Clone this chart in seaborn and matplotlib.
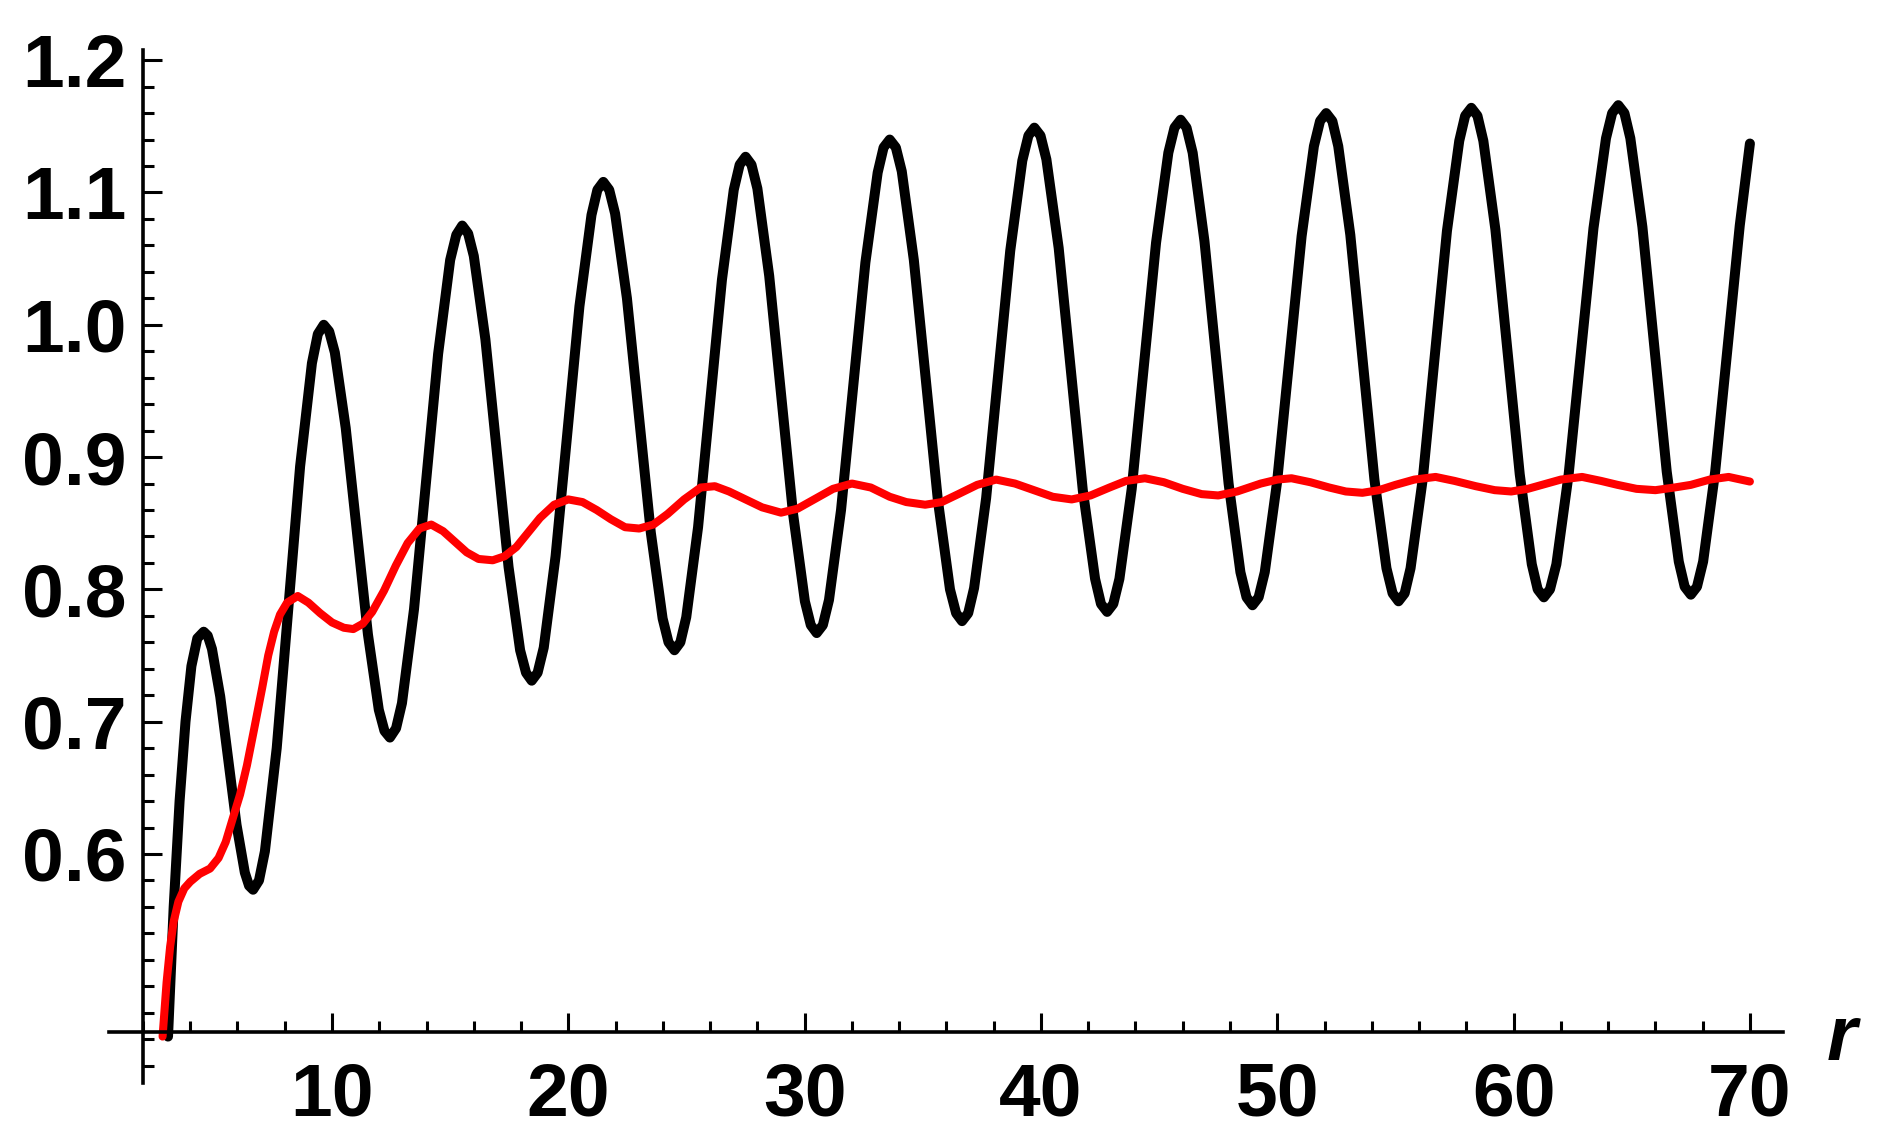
import numpy as np
import pandas as pd
import matplotlib.pyplot as plt
import seaborn as sns
from matplotlib.ticker import MultipleLocator, FormatStrFormatter

# black curve
black_r = [3.06, 3.30, 3.55, 3.80, 4.05, 4.30, 4.57,
           4.74, 4.92, 5.27, 5.96, 6.31, 6.49, 6.66,
           6.91, 7.16, 7.66, 8.65, 9.15, 9.40, 9.65,
           9.88, 10.12, 10.58, 11.52, 11.98, 12.22, 12.45,
           12.71, 12.96, 13.47, 14.49, 15.00, 15.26, 15.51,
           15.76, 16.00, 16.49, 17.47, 17.96, 18.21, 18.45,
           18.70, 18.96, 19.46, 20.47, 20.98, 21.23, 21.48,
           21.73, 21.98, 22.48, 23.49, 23.99, 24.24, 24.49,
           24.74, 24.99, 25.49, 26.50, 27.00, 27.25, 27.50,
           27.75, 28.00, 28.50, 29.51, 30.01, 30.26, 30.51,
           30.77, 31.03, 31.54, 32.57, 33.09, 33.34, 33.60,
           33.86, 34.11, 34.62, 35.64, 36.15, 36.41, 36.66,
           36.92, 37.17, 37.68, 38.70, 39.21, 39.47, 39.72,
           39.98, 40.23, 40.75, 41.77, 42.29, 42.54, 42.80,
           43.06, 43.32, 43.84, 44.87, 45.39, 45.65, 45.91,
           46.16, 46.42, 46.92, 47.94, 48.44, 48.70, 48.95,
           49.21, 49.47, 49.99, 51.03, 51.55, 51.81, 52.07,
           52.33, 52.58, 53.09, 54.11, 54.62, 54.88, 55.13,
           55.39, 55.64, 56.16, 57.18, 57.70, 57.95, 58.21,
           58.47, 58.72, 59.23, 60.26, 60.77, 61.02, 61.28,
           61.54, 61.81, 62.33, 63.38, 63.91, 64.17, 64.43,
           64.69, 64.94, 65.45, 66.48, 66.99, 67.24, 67.50,
           67.76, 68.02, 68.53, 69.57, 70.00]
black_v = [0.462, 0.560, 0.640, 0.700, 0.742, 0.763, 0.768,
           0.765, 0.755, 0.719, 0.622, 0.586, 0.576, 0.573,
           0.580, 0.602, 0.680, 0.893, 0.971, 0.993, 1.000,
           0.995, 0.979, 0.922, 0.766, 0.709, 0.693, 0.688,
           0.695, 0.714, 0.785, 0.978, 1.049, 1.068, 1.075,
           1.069, 1.052, 0.989, 0.817, 0.754, 0.737, 0.731,
           0.737, 0.756, 0.825, 1.014, 1.083, 1.102, 1.108,
           1.102, 1.084, 1.020, 0.843, 0.778, 0.760, 0.754,
           0.760, 0.779, 0.847, 1.034, 1.102, 1.121, 1.127,
           1.121, 1.103, 1.037, 0.857, 0.791, 0.773, 0.767,
           0.773, 0.792, 0.860, 1.047, 1.115, 1.134, 1.140,
           1.134, 1.116, 1.049, 0.867, 0.800, 0.782, 0.776,
           0.782, 0.801, 0.869, 1.056, 1.124, 1.143, 1.149,
           1.143, 1.125, 1.058, 0.875, 0.808, 0.789, 0.783,
           0.789, 0.808, 0.876, 1.062, 1.130, 1.149, 1.155,
           1.149, 1.130, 1.063, 0.880, 0.813, 0.794, 0.788,
           0.794, 0.813, 0.881, 1.067, 1.135, 1.154, 1.160,
           1.154, 1.135, 1.068, 0.883, 0.816, 0.797, 0.791,
           0.797, 0.816, 0.884, 1.071, 1.139, 1.158, 1.164,
           1.158, 1.139, 1.072, 0.887, 0.819, 0.800, 0.794,
           0.800, 0.819, 0.887, 1.073, 1.141, 1.160, 1.166,
           1.160, 1.141, 1.074, 0.889, 0.821, 0.802, 0.796,
           0.802, 0.821, 0.889, 1.075, 1.137]

# red curve
red_r = [2.83, 3.00, 3.15, 3.30, 3.50, 3.75, 4.00, 4.40, 4.84, 5.20,
         5.50, 5.82, 6.11, 6.40, 6.70, 7.05, 7.30, 7.55, 7.80, 8.10,
         8.55, 9.00, 9.50, 10.0, 10.5, 10.9, 11.3, 11.7, 12.2, 12.7,
         13.2, 13.7, 14.2, 14.7, 15.2, 15.7, 16.2, 16.8, 17.3, 17.8,
         18.3, 18.8, 19.4, 20.0, 20.6, 21.2, 21.8, 22.4, 23.0, 23.6,
         24.2, 24.9, 25.6, 26.2, 26.8, 27.5, 28.2, 29.0, 29.7, 30.4,
         31.2, 32.0, 32.8, 33.6, 34.3, 35.1, 35.8, 36.5, 37.3, 38.1,
         38.9, 39.7, 40.5, 41.3, 42.1, 42.9, 43.6, 44.4, 45.2, 46.0,
         46.8, 47.5, 48.3, 49.3, 50.0, 50.6, 51.4, 52.2, 52.9, 53.6,
         54.3, 55.0, 55.8, 56.7, 57.5, 58.4, 59.2, 59.9, 60.6, 61.2,
         62.0, 62.9, 63.7, 64.4, 65.2, 66.0, 66.8, 67.5, 68.3, 69.1,
         70.0]
red_v = [0.462, 0.503, 0.530, 0.549, 0.564, 0.574, 0.579, 0.585, 0.589, 0.597,
         0.609, 0.628, 0.645, 0.667, 0.694, 0.726, 0.750, 0.768, 0.781, 0.790,
         0.795, 0.790, 0.782, 0.775, 0.771, 0.770, 0.774, 0.783, 0.799, 0.818,
         0.835, 0.846, 0.849, 0.844, 0.836, 0.828, 0.823, 0.822, 0.825, 0.832,
         0.843, 0.854, 0.864, 0.868, 0.866, 0.860, 0.853, 0.847, 0.846, 0.849,
         0.857, 0.868, 0.877, 0.878, 0.874, 0.868, 0.862, 0.858, 0.861, 0.868,
         0.876, 0.880, 0.877, 0.870, 0.866, 0.864, 0.866, 0.872, 0.879, 0.883,
         0.880, 0.875, 0.870, 0.868, 0.871, 0.877, 0.882, 0.884, 0.881, 0.876,
         0.872, 0.871, 0.874, 0.880, 0.883, 0.884, 0.881, 0.877, 0.874, 0.873,
         0.875, 0.879, 0.883, 0.885, 0.882, 0.878, 0.875, 0.874, 0.876, 0.879,
         0.883, 0.885, 0.882, 0.879, 0.876, 0.875, 0.877, 0.879, 0.883, 0.885,
         0.8815]

x_major = [10, 20, 30, 40, 50, 60, 70]
y_major = [0.6, 0.7, 0.8, 0.9, 1.0, 1.1, 1.2]

df_black = pd.DataFrame({'r': black_r, 'v': black_v})
df_red = pd.DataFrame({'r': red_r, 'v': red_v})

sns.set_style('ticks')
plt.rcParams['font.family'] = ['Liberation Sans', 'DejaVu Sans']

fig = plt.figure(figsize=(18.79, 11.45), dpi=100)
ax = fig.add_axes([109 / 1879, 62 / 1145, 1674 / 1879, 1033 / 1145])

sns.lineplot(data=df_black, x='r', y='v', sort=False, estimator=None,
             color='black', linewidth=7.2, solid_joinstyle='round', ax=ax)
sns.lineplot(data=df_red, x='r', y='v', sort=False, estimator=None,
             color='#ff0000', linewidth=5.8, solid_joinstyle='round', ax=ax)

ax.set_xlim(0.563, 71.40)
ax.set_ylim(0.4269, 1.2077)

for side in ['top', 'right']:
    ax.spines[side].set_visible(False)
ax.spines['left'].set_position(('data', 2.0))
ax.spines['bottom'].set_position(('data', 0.4655))
for side in ['left', 'bottom']:
    ax.spines[side].set_color('black')
    ax.spines[side].set_linewidth(2.6)

ax.set_xticks(x_major)
ax.set_yticks(y_major)
ax.xaxis.set_minor_locator(MultipleLocator(2))
ax.yaxis.set_minor_locator(MultipleLocator(0.02))
ax.yaxis.set_major_formatter(FormatStrFormatter('%.1f'))

ax.tick_params(which='both', bottom=True, left=True, top=False, right=False)
ax.tick_params(which='major', direction='in', length=13.5, width=2.2,
               color='black', labelcolor='black')
ax.tick_params(which='minor', direction='in', length=8, width=2.2, color='black')
ax.tick_params(axis='y', which='major', pad=12, labelsize=54)
ax.tick_params(axis='x', which='major', pad=21, labelsize=54)
for lab in ax.get_xticklabels() + ax.get_yticklabels():
    lab.set_fontweight('bold')

ax.set_xlabel('')
ax.set_ylabel('')
ax.grid(False)

fig.text(1842 / 1879, (1145 - 1060) / 1145, 'r', ha='center', va='baseline',
         fontsize=56, fontweight='bold', fontstyle='italic', color='black')

fig.savefig('out.png', dpi=100, facecolor='white')
